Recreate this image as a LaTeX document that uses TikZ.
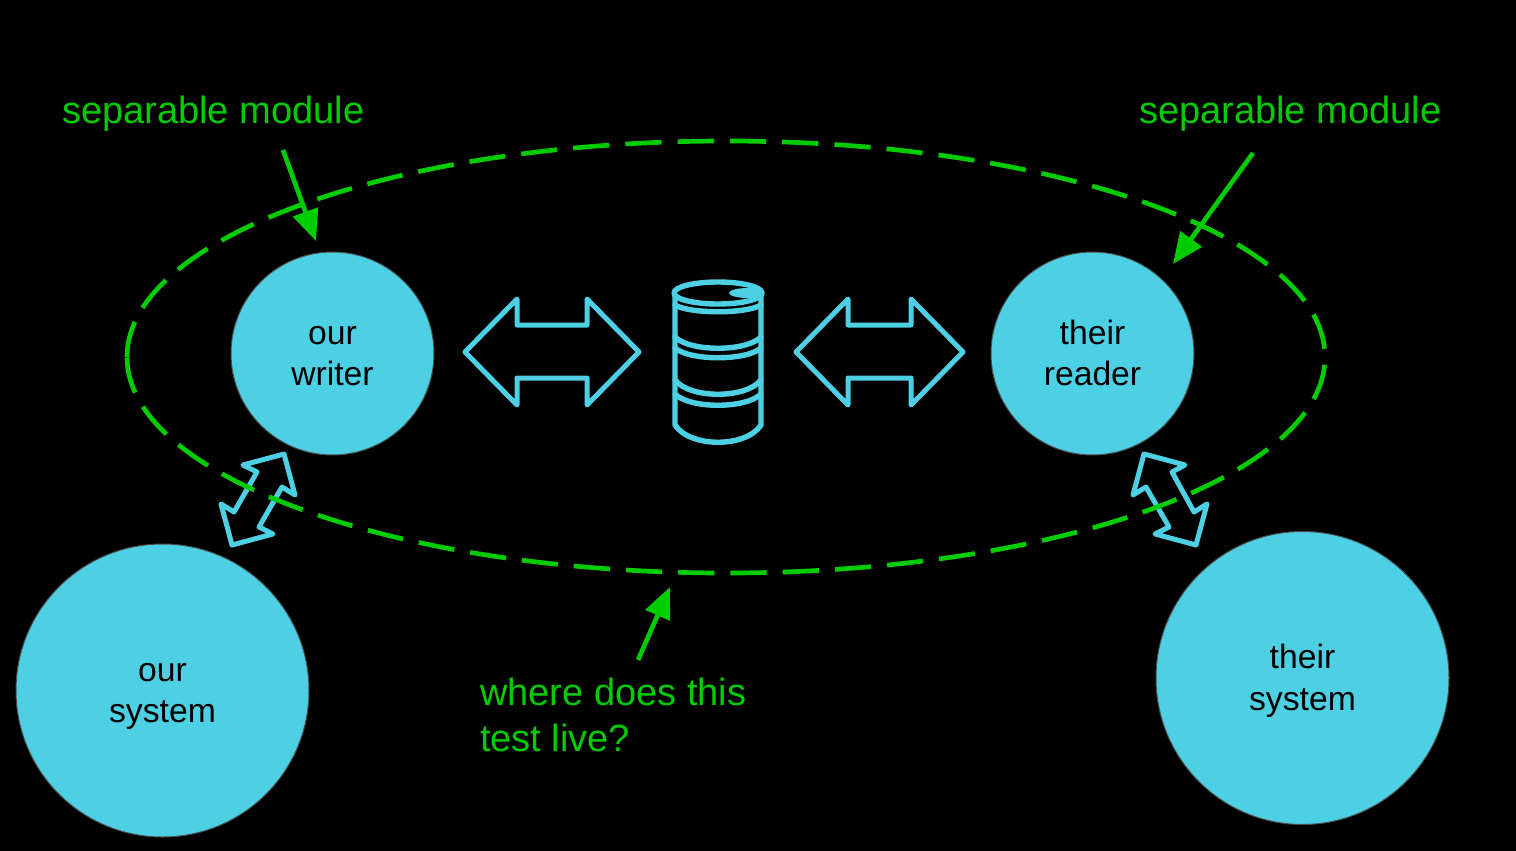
\documentclass[tikz,border=0pt]{standalone}
\usepackage{fontspec}
\setmainfont{Liberation Sans}
\usetikzlibrary{arrows.meta}
\definecolor{cyanfill}{HTML}{4DD0E4}
\definecolor{grn}{HTML}{00CC00}
\newcommand{\tophold}{\rule{0pt}{23pt}}
\tikzset{
  blob/.style={circle,draw=black!70!white,line width=1pt,fill=cyanfill,inner sep=0pt,align=center,text=black,font=\fontsize{33.7}{41.3}\selectfont},
  outlinecy/.style={draw=cyanfill,line width=5pt,line join=round,line cap=round},
  barrelline/.style={draw=cyanfill,line width=5.4pt,line join=round,line cap=round},
  note/.style={text=grn,font=\fontsize{38}{46}\selectfont,inner sep=0pt,align=left},
  pointer/.style={draw=grn,line width=4.7pt,-{Triangle[length=31pt,width=26pt]}},
  ring/.style={draw=grn,line width=4.7pt,dash pattern=on 36.3pt off 16pt}
}
\begin{document}
\begin{tikzpicture}[x=1pt,y=-1pt]
\useasboundingbox[fill=black] (0,0) rectangle (1516,851);
% circles
\node[blob,minimum size=203pt] (writer) at (332.5,353.5) {\tophold\smash{our}\\\smash{writer}};
\node[blob,minimum size=203pt] (reader) at (1092.5,353.5) {\tophold\smash{their}\\\smash{reader}};
\node[blob,minimum size=293pt] (oursys) at (162.5,690.5) {\tophold\smash{our}\\\smash{system}};
\node[blob,minimum size=293pt] (theirsys) at (1302.5,678) {\tophold\smash{their}\\\smash{system}};
% big double arrows
\draw[outlinecy] (465,352)--(517,299)--(517,325)--(587,325)--(587,299)--(639,352)--(587,405)--(587,378)--(517,378)--(517,405)--cycle;
\draw[outlinecy] (796,352)--(848,299)--(848,325)--(911,325)--(911,299)--(963,352)--(911,405)--(911,378)--(848,378)--(848,405)--cycle;
% small double arrows
\draw[outlinecy] (284,454)--(295,495)--(282,487)--(259,527)--(273,534)--(232,545)--(221,504)--(234,512)--(257,472)--(243,465)--cycle;
\draw[outlinecy] (1144,454)--(1185,465)--(1172,472)--(1194,512)--(1207,504)--(1196,545)--(1155,534)--(1169,527)--(1146,487)--(1133,495)--cycle;
% barrel
\draw[barrelline] (718,293) ellipse [x radius=44pt,y radius=11pt];
\fill[cyanfill] (729,293) .. controls (729,290) and (738,288) .. (748,288) -- (762,289) -- (762,297) -- (748,298) .. controls (738,298) and (729,296) .. (729,293) -- cycle;
\draw[barrelline] (675,296) -- (675,425) .. controls (690,448) and (746,448) .. (761,425) -- (761,296);
\draw[barrelline] (675,305) .. controls (690,314) and (746,314) .. (761,305);
\draw[barrelline] (675,337) .. controls (690,352) and (746,352) .. (761,337);
\draw[barrelline] (675,348) .. controls (690,361) and (746,361) .. (761,348);
\draw[barrelline] (675,380) .. controls (690,399) and (746,399) .. (761,380);
\draw[barrelline] (675,394) .. controls (690,409) and (746,409) .. (761,394);
% dashed ellipse
\draw[ring] (127,357) arc [start angle=180,end angle=-180,x radius=599pt,y radius=216pt];
% notes
\node[note,anchor=base west] (noteL) at (62,123.5) {separable module};
\node[note,anchor=base west] (noteR) at (1139,123.5) {separable module};
\node[note,anchor=base west] (noteB) at (480,751) {where does this\\test live?};
% pointers
\coordinate (aL) at (283,150); \coordinate (bL) at (316,241);
\coordinate (aR) at (1253,153); \coordinate (bR) at (1173,264);
\coordinate (aB) at (638,660); \coordinate (bB) at (670,587);
\draw[pointer] (aL)--(bL);
\draw[pointer] (aR)--(bR);
\draw[pointer] (aB)--(bB);
\end{tikzpicture}
\end{document}
